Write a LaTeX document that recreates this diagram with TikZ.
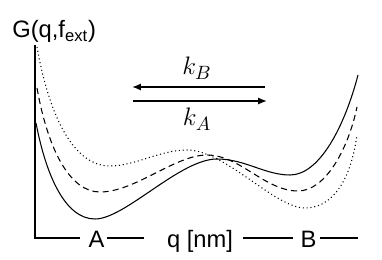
\documentclass[tikz,border=0pt]{standalone}
\usepackage{fontspec}
\newfontfamily\labelfont{Liberation Sans}
\usetikzlibrary{arrows.meta,calc}

\tikzset{
  axis/.style={line width=0.8pt},
  lbl/.style={font=\labelfont\fontsize{13.5}{16}\selectfont, inner sep=0pt, anchor=base},
  rate/.style={font=\fontsize{15.5}{18}\selectfont, inner sep=0pt, anchor=base},
  flow/.style={line width=0.9pt, -{Latex[length=5pt,width=4pt]}},
  curve/.style={line width=0.6pt},
}

\begin{document}
\begin{tikzpicture}[x=0.02cm, y=-0.02cm]
  \useasboundingbox (0,0) rectangle (382,260);
  % axes
  \coordinate (ytop) at (35,45);
  \coordinate (origin) at (35,238);
  \coordinate (xend) at (358,238);
  \node[lbl, anchor=base west] (title) at (12,38) {G(q,f\textsubscript{ext})};
  \node[lbl] (A) at (96.5,247) {A};
  \node[lbl] (q) at (200,247) {q [nm]};
  \node[lbl] (B) at (308.5,247) {B};
  \draw[axis] (ytop) -- (origin) -- ($(A.west |- origin)+(-4.5pt,0)$);
  \draw[axis] ($(A.east |- origin)+(1.2pt,0)$) -- ($(q.west |- origin)+(-13pt,0)$);
  \draw[axis] ($(q.east |- origin)+(5.7pt,0)$) -- ($(B.west |- origin)+(-4pt,0)$);
  \draw[axis] ($(B.east |- origin)+(1.7pt,0)$) -- (xend);
  % rates
  \node[rate] (kB) at (197,75) {$k_B$};
  \node[rate] (kA) at (197,126) {$k_A$};
  \coordinate (tr) at (265,87);
  \coordinate (tl) at (132,87);
  \coordinate (bl) at (133,101);
  \coordinate (br) at (267,101);
  \draw[flow] (tr) -- (tl);
  \draw[flow] (bl) -- (br);
  % free energy at three forces
  \draw[curve] (36,123) .. controls (46,175) and (65,219) .. (95,219)
    .. controls (125,219) and (180,159) .. (217,159)
    .. controls (245,159) and (265,175) .. (290,175)
    .. controls (320,175) and (345,125) .. (358,75);
  \draw[curve, dash pattern=on 3.5pt off 2.3pt] (37,88) .. controls (48,150) and (70,192) .. (100,192)
    .. controls (135,192) and (175,155) .. (207,155)
    .. controls (240,155) and (265,191) .. (298,191)
    .. controls (325,191) and (348,150) .. (357,107);
  \draw[curve, dash pattern=on 0.6pt off 1.6pt] (37,47) .. controls (50,120) and (75,166) .. (110,166)
    .. controls (135,166) and (160,150) .. (187,150)
    .. controls (225,150) and (275,208) .. (305,208)
    .. controls (330,208) and (350,185) .. (357,135);
\end{tikzpicture}
\end{document}
